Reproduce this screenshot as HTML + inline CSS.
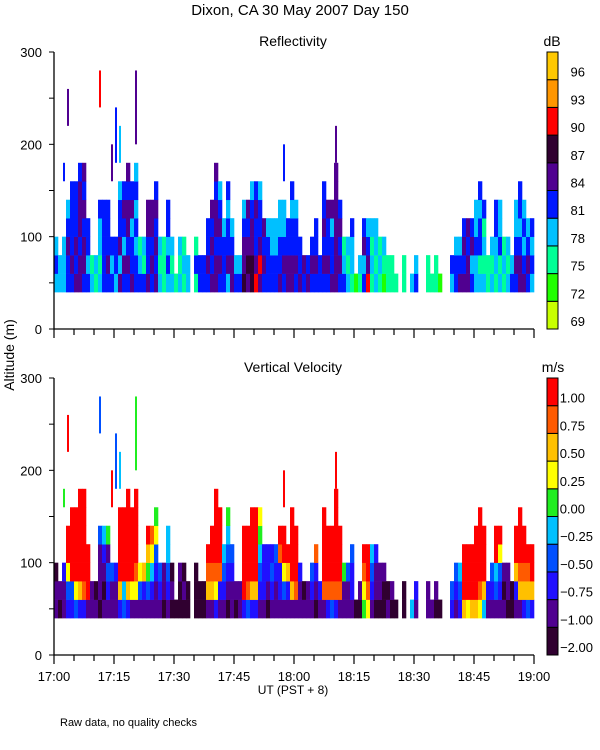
<!DOCTYPE html>
<html><head><meta charset="utf-8"><style>
body{margin:0;background:#fff;}
svg{display:block;font-family:"Liberation Sans",sans-serif;}
</style></head><body>
<svg id="c" width="600" height="750" viewBox="0 0 600 750">
<text x="300" y="15" text-anchor="middle" font-size="15">Dixon, CA 30 May 2007  Day 150</text>
<text x="293" y="46" text-anchor="middle" font-size="14">Reflectivity</text>
<text x="293" y="372" text-anchor="middle" font-size="14">Vertical Velocity</text>
<text x="552" y="46" text-anchor="middle" font-size="14">dB</text>
<text x="553" y="372" text-anchor="middle" font-size="14">m/s</text>
<text transform="translate(14,355) rotate(-90)" text-anchor="middle" font-size="14">Altitude (m)</text>
<text x="293" y="694" text-anchor="middle" font-size="12">UT  (PST + 8)</text>
<text x="60" y="726" font-size="11">Raw data, no quality checks</text>
</svg>
<script>
const minutes=120;
const heights=[100,80,100,140,160,160,180,180,120,80,80,140,140,140,100,100,160,160,180,160,180,100,100,140,140,160,100,100,140,100,60,100,100,80,0,100,80,80,120,140,180,160,120,160,120,80,80,140,140,160,160,160,120,120,120,120,140,140,120,160,140,100,80,80,100,120,80,160,140,140,180,140,100,100,120,60,80,120,120,120,120,100,100,80,80,60,0,80,0,60,80,0,0,80,60,80,60,0,0,80,100,100,120,120,120,140,160,140,80,100,140,140,100,100,80,140,160,140,120,120];
const reflCells=["343","33","333","44543","454444","545444","5545554","4554545","4344","32","23","32334","44444","45444","434","344","535443","453454","4545545","544354","4434343","432","423","54455","45455","545454","323","222","34344","323","2","323","232","33","","242","44","44","4544","54545","5545545","454543","4443","354434","5543","43","43","65543","56545","665543","754454","575443","4545","4443","4433","4433","54433","45433","5544","554434","45443","544","45","54","454","4544","44","454544","45445","54435","5555555","45454","432","323","2334","1","23","4354","7543","2323","3233","232","123","22","22","2","","22","","3","43","","","22","2","22","1","","","34","443","543","5454","5545","4354","33433","324434","32324","22","323","23344","32433","232","323","43","45433","554344","54343","4543","3434"];
const velCells=["110","01","112","23699","239999","369999","2799999","2899999","1999","11","10","01113","10124","12315","113","112","279999","349999","2799999","169999","1689999","136","127","13579","12468","112365","123","011","12344","010","0","001","010","00","","000","00","00","1789","17899","2689999","128999","1234","012345","1123","01","11","29999","38999","279999","279999","123456","1222","0122","1232","1123","12289","13699","1279","179999","18999","112","10","11","123","0128","12","189999","28999","38999","2899999","18999","115","113","1223","0","01","5689","6899","1234","0112","011","001","10","01","0","","00","","4","12","","","11","1","01","0","","","23","123","234","7999","6999","7999","79999","689999","47999","12","123","13499","12369","101","011","00","12799","178999","27899","3789","2799"];
const extraMinute=[2,3,11,14,15,16,20,57,70];
const extraLo=[160,220,240,160,180,180,200,160,180];
const extraHi=[180,260,280,200,240,220,280,200,220];
const extraRefl=[4,5,7,5,4,3,5,4,5];
const extraVel=[5,9,3,9,3,4,5,9,9];
const reflLabels=["69","72","75","78","81","84","87","90","93","96"];
const velLabels=["-2.00","-1.00","-0.75","-0.50","-0.25","0.00","0.25","0.50","0.75","1.00"];
const timeLabels=["17:00","17:15","17:30","17:45","18:00","18:15","18:30","18:45","19:00"];
const altTicks=[0,100,200,300];
const reflColors=["#c8ff00","#20ff00","#00ff96","#00c0ff","#0018ff","#500090","#300030","#ff0000","#ff9600","#ffc800"];
const velColors=["#300030","#500090","#2010ff","#0050ff","#00c0ff","#20ee20","#ffff00","#ffc000","#ff5a00","#ff0000"];

const NS="http://www.w3.org/2000/svg";
const svg=document.getElementById('c');
const X0=54,X1=534;
function xScale(m){return X0+(X1-X0)*m/minutes;}
function mk(tag,attrs,parent){const e=document.createElementNS(NS,tag);for(const k in attrs)e.setAttribute(k,attrs[k]);(parent||svg).appendChild(e);return e;}

function panel(top,bottom,cells,colors,extraIdx,labels,pname){
  const yS=a=>bottom-(bottom-top)*a/300;
  const g=mk('g',{});
  
  
  for(let m=0;m<heights.length;m++){
    const n=Math.max(0,Math.round((heights[m]-40)/20));
    const s=cells[m]||"";
    for(let k=0;k<n;k++){
      const ch=s.length?s[Math.min(k,s.length-1)]:'3';
      const lo=40+20*k,hi=lo+20;
      const r=mk('rect',{x:xScale(m),y:yS(hi),width:xScale(m+1)-xScale(m)+0.3,height:yS(lo)-yS(hi)+0.3,fill:colors[+ch]},g);
      
      
    }
  }
  for(let i=0;i<extraMinute.length;i++){
    const m=extraMinute[i];
    const r=mk('rect',{x:xScale(m)+1,y:yS(extraHi[i]),width:2,height:yS(extraLo[i])-yS(extraHi[i]),fill:colors[extraIdx[i]]},g);
    
    
  }
  // axes
  const ax=mk('path',{d:`M${X0},${yS(300)}V${bottom}H${X1}`,stroke:'#000',fill:'none','stroke-width':1.3});
  
  
  for(let a=0;a<=300;a+=50){mk('line',{x1:X0-5,x2:X0,y1:yS(a),y2:yS(a),stroke:'#000'});}
  altTicks.forEach(a=>{
    const t=mk('text',{x:X0-12,y:yS(a)+5,'text-anchor':'end','font-size':13});
    t.textContent=a;
    
    
  });
  for(let m=0;m<=minutes;m+=5){
    const len=m%15===0?9:6;
    mk('line',{x1:xScale(m),x2:xScale(m),y1:bottom,y2:bottom+len,stroke:'#000','stroke-width':1.2});
  }
  // colorbar
  const cx=547,cw=11,seg=(bottom-yS(300))/10;
  for(let i=0;i<10;i++){
    const yy=bottom-(i+1)*seg;
    const r=mk('rect',{x:cx,y:yy,width:cw,height:seg,fill:colors[i],stroke:'#000','stroke-width':1});
    
    
    const t=mk('text',{x:labels[i][0]==='-'?593:585,y:yy+seg-3,'text-anchor':'end','font-size':13});
    t.textContent=labels[i].replace('-','\u2212');
    
    
  }
}
panel(52,329,reflCells,reflColors,extraRefl,reflLabels,'reflectivity');
panel(378,655,velCells,velColors,extraVel,velLabels,'velocity');
timeLabels.forEach((l,i)=>{
  const t=mk('text',{x:xScale(i*15),y:681,'text-anchor':'middle','font-size':13});
  t.textContent=l;
  
  
});
</script>
</body></html>
